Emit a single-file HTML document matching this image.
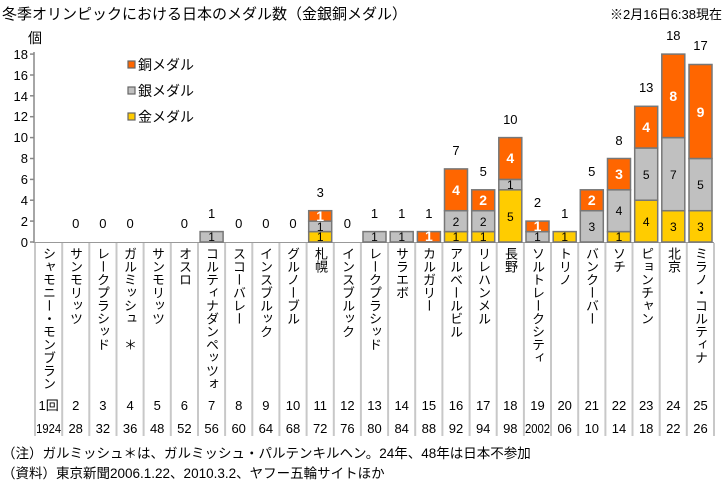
<!DOCTYPE html>
<html><head><meta charset="utf-8"><style>
body{margin:0;background:#fff;}
#w{position:relative;width:724px;height:484px;overflow:hidden;font-family:"Liberation Sans","Noto Sans CJK JP",sans-serif;}
.v{position:absolute;top:247px;width:27px;writing-mode:vertical-rl;font-size:13px;line-height:27px;letter-spacing:0px;color:#000;font-family:"Liberation Sans","Noto Sans CJK JP",sans-serif;}
</style></head><body><div id="w">
<svg width="724" height="484" style="position:absolute;left:0;top:0" font-family="Liberation Sans, Noto Sans CJK JP, sans-serif">
<text x="2" y="19" font-size="15">冬季オリンピックにおける日本のメダル数（金銀銅メダル）</text>
<text x="722" y="19" font-size="13" text-anchor="end">※2月16日6:38現在</text>
<text x="28" y="43" font-size="14">個</text>
<g stroke="#888" stroke-width="1.5"><line x1="34" y1="52" x2="34" y2="243"/>
<line x1="30" y1="54.1" x2="34" y2="54.1"/><line x1="30" y1="75" x2="34" y2="75"/><line x1="30" y1="95.8" x2="34" y2="95.8"/><line x1="30" y1="116.7" x2="34" y2="116.7"/><line x1="30" y1="137.6" x2="34" y2="137.6"/><line x1="30" y1="158.5" x2="34" y2="158.5"/><line x1="30" y1="179.4" x2="34" y2="179.4"/><line x1="30" y1="200.2" x2="34" y2="200.2"/><line x1="30" y1="221.1" x2="34" y2="221.1"/><line x1="30" y1="242" x2="34" y2="242"/></g>
<g font-size="13" text-anchor="end"><text x="28" y="59">18</text><text x="28" y="80">16</text><text x="28" y="101">14</text><text x="28" y="121">12</text><text x="28" y="142">10</text><text x="28" y="163">8</text><text x="28" y="184">6</text><text x="28" y="205">4</text><text x="28" y="226">2</text><text x="28" y="247">0</text></g>
<g stroke="#c8c8c8" stroke-width="2">
<line x1="35" y1="243" x2="35" y2="436"/><line x1="62.2" y1="243" x2="62.2" y2="436"/><line x1="89.3" y1="243" x2="89.3" y2="436"/><line x1="116.5" y1="243" x2="116.5" y2="436"/><line x1="143.6" y1="243" x2="143.6" y2="436"/><line x1="170.8" y1="243" x2="170.8" y2="436"/><line x1="198" y1="243" x2="198" y2="436"/><line x1="225.1" y1="243" x2="225.1" y2="436"/><line x1="252.3" y1="243" x2="252.3" y2="436"/><line x1="279.4" y1="243" x2="279.4" y2="436"/><line x1="306.6" y1="243" x2="306.6" y2="436"/><line x1="333.8" y1="243" x2="333.8" y2="436"/><line x1="360.9" y1="243" x2="360.9" y2="436"/><line x1="388.1" y1="243" x2="388.1" y2="436"/><line x1="415.2" y1="243" x2="415.2" y2="436"/><line x1="442.4" y1="243" x2="442.4" y2="436"/><line x1="469.6" y1="243" x2="469.6" y2="436"/><line x1="496.7" y1="243" x2="496.7" y2="436"/><line x1="523.9" y1="243" x2="523.9" y2="436"/><line x1="551" y1="243" x2="551" y2="436"/><line x1="578.2" y1="243" x2="578.2" y2="436"/><line x1="605.4" y1="243" x2="605.4" y2="436"/><line x1="632.5" y1="243" x2="632.5" y2="436"/><line x1="659.7" y1="243" x2="659.7" y2="436"/><line x1="686.8" y1="243" x2="686.8" y2="436"/><line x1="714" y1="243" x2="714" y2="436"/>
</g>
<line x1="34" y1="242.5" x2="714" y2="242.5" stroke="#999" stroke-width="1"/>
<!-- legend -->
<g stroke="#666" stroke-width="1.2"><rect x="128" y="61" width="7" height="7" fill="#FF6600"/><rect x="128" y="87" width="7" height="7" fill="#C0C0C0"/><rect x="128" y="113" width="7" height="7" fill="#FFCC00"/></g>
<g font-size="14"><text x="138" y="70">銅メダル</text><text x="138" y="96">銀メダル</text><text x="138" y="122">金メダル</text></g>
<!-- zeros -->
<g font-size="13" text-anchor="middle"><text x="75.7" y="228">0</text><text x="102.9" y="228">0</text><text x="130.1" y="228">0</text><text x="184.4" y="228">0</text><text x="238.7" y="228">0</text><text x="265.9" y="228">0</text><text x="293" y="228">0</text><text x="347.4" y="228">0</text></g>
<!-- bars: x = center-11.5, w=23 -->
<g stroke="#777" stroke-width="1.5">
<rect x="200.1" y="231.6" width="23" height="10.4" fill="#C0C0C0"/>
<rect x="308.7" y="231.6" width="23" height="10.4" fill="#FFCC00"/><rect x="308.7" y="221.1" width="23" height="10.5" fill="#C0C0C0"/><rect x="308.7" y="210.7" width="23" height="10.4" fill="#FF6600"/>
<rect x="363" y="231.6" width="23" height="10.4" fill="#C0C0C0"/>
<rect x="390.2" y="231.6" width="23" height="10.4" fill="#C0C0C0"/>
<rect x="417.4" y="231.6" width="23" height="10.4" fill="#FF6600"/>
<rect x="444.5" y="231.6" width="23" height="10.4" fill="#FFCC00"/><rect x="444.5" y="210.7" width="23" height="20.9" fill="#C0C0C0"/><rect x="444.5" y="168.9" width="23" height="41.8" fill="#FF6600"/>
<rect x="471.7" y="231.6" width="23" height="10.4" fill="#FFCC00"/><rect x="471.7" y="210.7" width="23" height="20.9" fill="#C0C0C0"/><rect x="471.7" y="189.8" width="23" height="20.9" fill="#FF6600"/>
<rect x="498.8" y="189.8" width="23" height="52.2" fill="#FFCC00"/><rect x="498.8" y="179.4" width="23" height="10.4" fill="#C0C0C0"/><rect x="498.8" y="137.6" width="23" height="41.8" fill="#FF6600"/>
<rect x="526" y="231.6" width="23" height="10.4" fill="#C0C0C0"/><rect x="526" y="221.1" width="23" height="10.5" fill="#FF6600"/>
<rect x="553.2" y="231.6" width="23" height="10.4" fill="#FFCC00"/>
<rect x="580.3" y="210.7" width="23" height="31.3" fill="#C0C0C0"/><rect x="580.3" y="189.8" width="23" height="20.9" fill="#FF6600"/>
<rect x="607.5" y="231.6" width="23" height="10.4" fill="#FFCC00"/><rect x="607.5" y="189.8" width="23" height="41.8" fill="#C0C0C0"/><rect x="607.5" y="158.5" width="23" height="31.3" fill="#FF6600"/>
<rect x="634.7" y="200.2" width="23" height="41.8" fill="#FFCC00"/><rect x="634.7" y="148" width="23" height="52.2" fill="#C0C0C0"/><rect x="634.7" y="106.3" width="23" height="41.7" fill="#FF6600"/>
<rect x="661.8" y="210.7" width="23" height="31.3" fill="#FFCC00"/><rect x="661.8" y="137.6" width="23" height="73.1" fill="#C0C0C0"/><rect x="661.8" y="54.1" width="23" height="83.5" fill="#FF6600"/>
<rect x="689" y="210.7" width="23" height="31.3" fill="#FFCC00"/><rect x="689" y="158.5" width="23" height="52.2" fill="#C0C0C0"/><rect x="689" y="64.5" width="23" height="94" fill="#FF6600"/>
</g>
<!-- totals -->
<g font-size="13" text-anchor="middle">
<text x="211.6" y="218">1</text><text x="320.2" y="197">3</text><text x="374.5" y="218">1</text><text x="401.7" y="218">1</text><text x="428.9" y="218">1</text>
<text x="456" y="155">7</text><text x="483.2" y="176">5</text><text x="510.3" y="124">10</text><text x="537.5" y="207">2</text><text x="564.7" y="218">1</text>
<text x="591.8" y="176">5</text><text x="619" y="145">8</text><text x="646.2" y="92">13</text><text x="673.3" y="40">18</text><text x="700.5" y="50">17</text>
</g>
<!-- segment labels -->
<g font-size="12" text-anchor="middle">
<text x="211.6" y="241">1</text><text x="320.2" y="241">1</text><text x="320.2" y="231">1</text><text x="374.5" y="241">1</text><text x="401.7" y="241">1</text>
<text x="456" y="241">1</text><text x="456" y="226">2</text><text x="483.2" y="241">1</text><text x="483.2" y="226">2</text>
<text x="510.3" y="221">5</text><text x="510.3" y="189">1</text><text x="537.5" y="241">1</text><text x="564.7" y="241">1</text>
<text x="591.8" y="231">3</text><text x="619" y="241">1</text><text x="619" y="215">4</text>
<text x="646.2" y="226">4</text><text x="646.2" y="179">5</text><text x="673.3" y="231">3</text><text x="673.3" y="179">7</text><text x="700.5" y="231">3</text><text x="700.5" y="189">5</text>
</g>
<g font-size="14" font-weight="bold" fill="#fff" text-anchor="middle">
<text x="320.2" y="221">1</text><text x="428.9" y="241">1</text><text x="456" y="195">4</text><text x="483.2" y="205">2</text><text x="510.3" y="163">4</text><text x="537.5" y="231">1</text>
<text x="591.8" y="205">2</text><text x="619" y="179">3</text><text x="646.2" y="132">4</text><text x="673.3" y="101">8</text><text x="700.5" y="117">9</text>
</g>
<!-- numbers -->
<g font-size="13" text-anchor="middle">
<text x="48.6" y="410">1回</text><text x="75.7" y="410">2</text><text x="102.9" y="410">3</text><text x="130.1" y="410">4</text><text x="157.2" y="410">5</text><text x="184.4" y="410">6</text><text x="211.6" y="410">7</text><text x="238.7" y="410">8</text><text x="265.9" y="410">9</text><text x="293" y="410">10</text><text x="320.2" y="410">11</text><text x="347.4" y="410">12</text><text x="374.5" y="410">13</text><text x="401.7" y="410">14</text><text x="428.9" y="410">15</text><text x="456" y="410">16</text><text x="483.2" y="410">17</text><text x="510.3" y="410">18</text><text x="537.5" y="410">19</text><text x="564.7" y="410">20</text><text x="591.8" y="410">21</text><text x="619" y="410">22</text><text x="646.2" y="410">23</text><text x="673.3" y="410">24</text><text x="700.5" y="410">25</text>
</g>
<g font-size="13" text-anchor="middle">
<text x="48.6" y="433" textLength="25" lengthAdjust="spacingAndGlyphs">1924</text><text x="75.7" y="433">28</text><text x="102.9" y="433">32</text><text x="130.1" y="433">36</text><text x="157.2" y="433">48</text><text x="184.4" y="433">52</text><text x="211.6" y="433">56</text><text x="238.7" y="433">60</text><text x="265.9" y="433">64</text><text x="293" y="433">68</text><text x="320.2" y="433">72</text><text x="347.4" y="433">76</text><text x="374.5" y="433">80</text><text x="401.7" y="433">84</text><text x="428.9" y="433">88</text><text x="456" y="433">92</text><text x="483.2" y="433">94</text><text x="510.3" y="433">98</text><text x="537.5" y="433" textLength="25" lengthAdjust="spacingAndGlyphs">2002</text><text x="564.7" y="433">06</text><text x="591.8" y="433">10</text><text x="619" y="433">14</text><text x="646.2" y="433">18</text><text x="673.3" y="433">22</text><text x="700.5" y="433">26</text>
</g>
<g font-size="13.5"><text x="2" y="458">（注）ガルミッシュ＊は、ガルミッシュ・パルテンキルヘン。24年、48年は日本不参加</text><text x="2" y="478">（資料）東京新聞2006.1.22、2010.3.2、ヤフー五輪サイトほか</text></g>
</svg>
<div class="v" style="left:35px">シャモニー・モンブラン</div>
<div class="v" style="left:62px">サンモリッツ</div>
<div class="v" style="left:89px">レークプラシッド</div>
<div class="v" style="left:116px">ガルミッシュ　＊</div>
<div class="v" style="left:144px">サンモリッツ</div>
<div class="v" style="left:171px">オスロ</div>
<div class="v" style="left:198px">コルティナダンペッツォ</div>
<div class="v" style="left:225px">スコーバレー</div>
<div class="v" style="left:252px">インスブルック</div>
<div class="v" style="left:279px">グルノーブル</div>
<div class="v" style="left:307px">札幌</div>
<div class="v" style="left:334px">インスブルック</div>
<div class="v" style="left:361px">レークプラシッド</div>
<div class="v" style="left:388px">サラエボ</div>
<div class="v" style="left:415px">カルガリー</div>
<div class="v" style="left:442px">アルベールビル</div>
<div class="v" style="left:470px">リレハンメル</div>
<div class="v" style="left:497px">長野</div>
<div class="v" style="left:524px">ソルトレークシティ</div>
<div class="v" style="left:551px">トリノ</div>
<div class="v" style="left:578px">バンクーバー</div>
<div class="v" style="left:605px">ソチ</div>
<div class="v" style="left:633px">ピョンチャン</div>
<div class="v" style="left:660px">北京</div>
<div class="v" style="left:687px">ミラノ・コルティナ</div>
</div></body></html>
